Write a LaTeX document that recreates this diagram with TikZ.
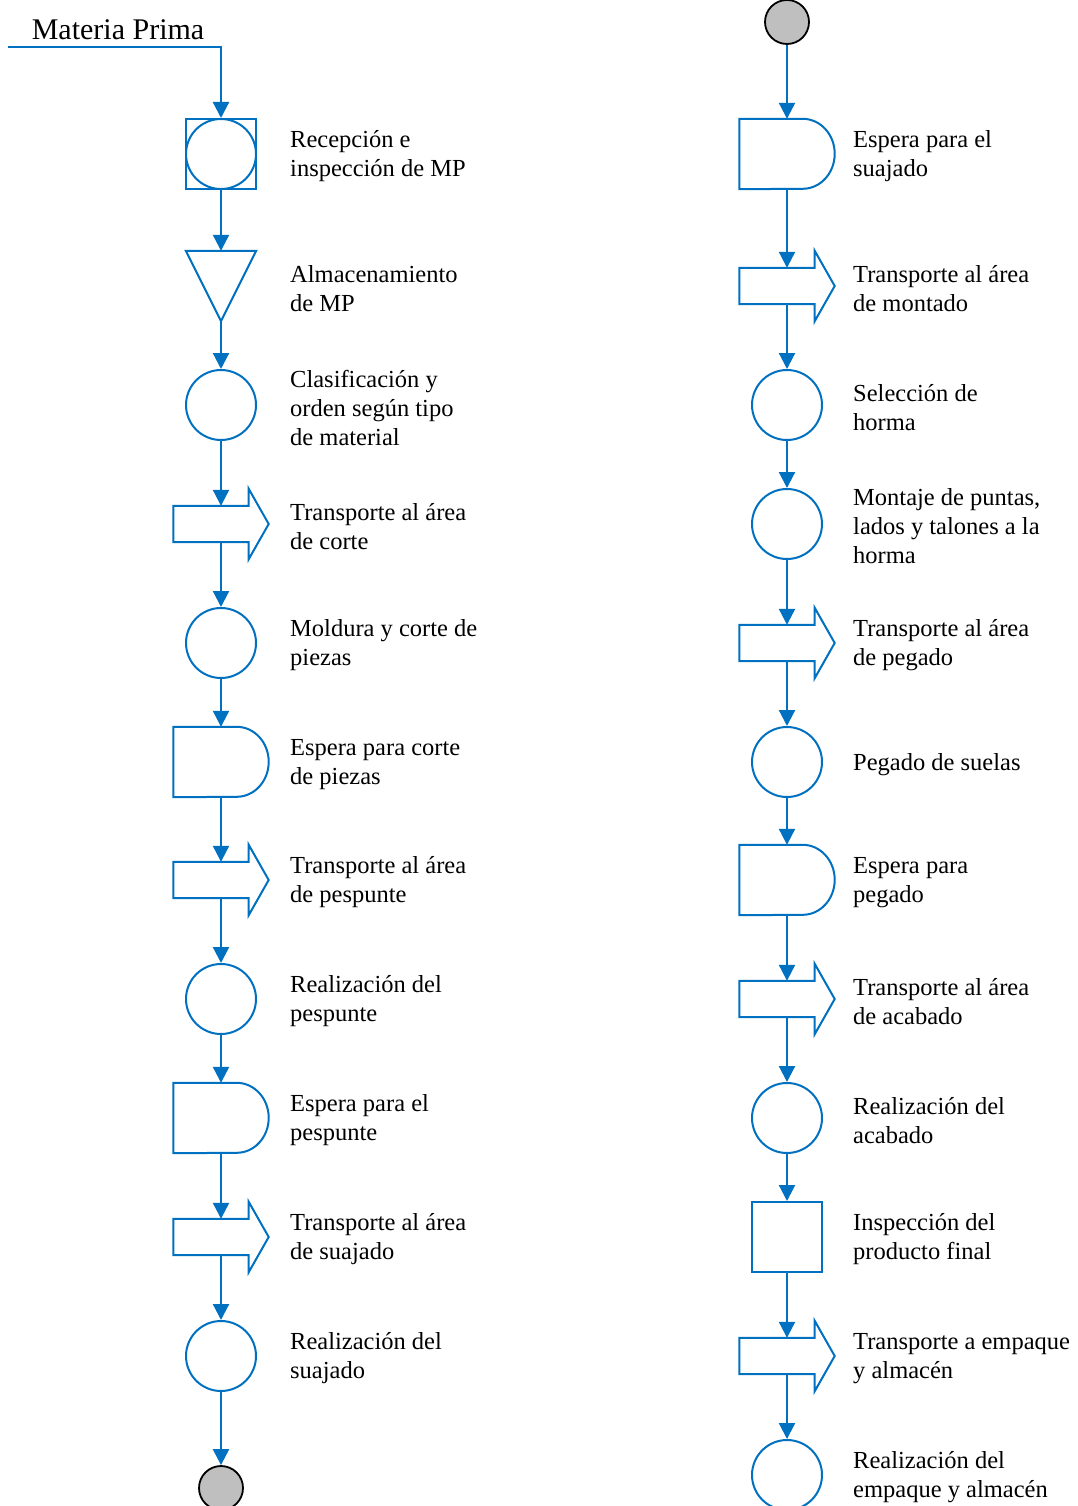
\documentclass[tikz,border=0pt]{standalone}
\usepackage{fontspec}
\setmainfont{Liberation Serif}
\usetikzlibrary{arrows.meta}
\definecolor{mblue}{HTML}{0070C0}
\definecolor{mgrey}{HTML}{BFBFBF}
\begin{document}
\begin{tikzpicture}[x=1pt,y=1pt,
  shp/.style={draw=mblue, line width=2pt},
  conn/.style={draw=mblue, line width=2.2pt, -{Triangle[length=16pt,width=16pt]}},
  op/.style={circle, shp, minimum size=70pt, inner sep=0pt},
  insp/.style={rectangle, shp, minimum size=70pt, inner sep=0pt},
  combo/.style={circle, shp, minimum size=70pt, inner sep=0pt,
    append after command={\pgfextra{\pgfinterruptpath
      \draw[shp] ([shift={(-35pt,-35pt)}]\tikzlastnode.center) rectangle ([shift={(35pt,35pt)}]\tikzlastnode.center);
    \endpgfinterruptpath}}},
  store/.style={rectangle, inner sep=0pt, minimum width=70pt, minimum height=70pt,
    append after command={\pgfextra{\pgfinterruptpath
      \draw[shp, line join=miter] (\tikzlastnode.north west) -- (\tikzlastnode.north east) -- (\tikzlastnode.south) -- cycle;
    \endpgfinterruptpath}}},
  delay/.style={rectangle, inner sep=0pt, minimum width=95pt, minimum height=70pt,
    append after command={\pgfextra{\pgfinterruptpath
      \draw[shp, line join=miter] (\tikzlastnode.north west) -- ([xshift=-32pt]\tikzlastnode.north east)
        arc[start angle=90, end angle=-90, x radius=32pt, y radius=35pt] -- (\tikzlastnode.south west) -- cycle;
    \endpgfinterruptpath}}},
  transp/.style={rectangle, inner sep=0pt, minimum width=95pt, minimum height=36pt,
    append after command={\pgfextra{\pgfinterruptpath
      \draw[shp, line join=miter] (\tikzlastnode.north west) -- ([xshift=-20pt]\tikzlastnode.north east)
        -- ([xshift=-20pt,yshift=17pt]\tikzlastnode.north east) -- (\tikzlastnode.east)
        -- ([xshift=-20pt,yshift=-17pt]\tikzlastnode.south east) -- ([xshift=-20pt]\tikzlastnode.south east)
        -- (\tikzlastnode.south west) -- cycle;
    \endpgfinterruptpath}}},
  term/.style={circle, draw=black, line width=1.8pt, fill=mgrey, minimum size=44pt, inner sep=0pt},
  lbl/.style={anchor=west, align=left, inner sep=0pt, yshift=-2.5pt, font=\fontsize{24.5}{29}\selectfont}
]
\useasboundingbox (0,0) rectangle (1078,-1506);

% Left column
\node[font=\fontsize{30}{34}\selectfont, inner sep=0pt] (mptxt) at (118,-30) {Materia Prima};
\coordinate (mp) at (8,-47);
\node[combo] (L1) at (221,-154) {};
\node[store] (L2) at (221,-286) {};
\node[op] (L3) at (221,-405) {};
\node[transp] (L4) at (221,-524) {};
\node[op] (L5) at (221,-643) {};
\node[delay] (L6) at (221,-762) {};
\node[transp] (L7) at (221,-880) {};
\node[op] (L8) at (221,-999) {};
\node[delay] (L9) at (221,-1118) {};
\node[transp] (L10) at (221,-1237) {};
\node[op] (L11) at (221,-1356) {};
\node[term] (LE) at (221,-1488) {};

\draw[conn] (mp) -| (L1.north);
\draw[conn] (L1.south) -- (L2.north);
\draw[conn] (L2.south) -- (L3.north);
\draw[conn] (L3.south) -- (L4.north);
\draw[conn] (L4.south) -- (L5.north);
\draw[conn] (L5.south) -- (L6.north);
\draw[conn] (L6.south) -- (L7.north);
\draw[conn] (L7.south) -- (L8.north);
\draw[conn] (L8.south) -- (L9.north);
\draw[conn] (L9.south) -- (L10.north);
\draw[conn] (L10.south) -- (L11.north);
\draw[conn] (L11.south) -- (LE.north);

\node[lbl] (t1) at (290,-154) {Recepción e\\inspección de MP};
\node[lbl] (t2) at (290,-286) {Almacenamiento\\de MP};
\node[lbl] (t3) at (290,-405) {Clasificación y\\orden según tipo\\de material};
\node[lbl] (t4) at (290,-524) {Transporte al área\\de corte};
\node[lbl] (t5) at (290,-643) {Moldura y corte de\\piezas};
\node[lbl] (t6) at (290,-762) {Espera para corte\\de piezas};
\node[lbl] (t7) at (290,-880) {Transporte al área\\de pespunte};
\node[lbl] (t8) at (290,-999) {Realización del\\pespunte};
\node[lbl] (t9) at (290,-1118) {Espera para el\\pespunte};
\node[lbl] (t10) at (290,-1237) {Transporte al área\\de suajado};
\node[lbl] (t11) at (290,-1356) {Realización del\\suajado};

% Right column
\node[term] (RS) at (787,-22) {};
\node[delay] (R1) at (787,-154) {};
\node[transp] (R2) at (787,-286) {};
\node[op] (R3) at (787,-405) {};
\node[op] (R4) at (787,-524) {};
\node[transp] (R5) at (787,-643) {};
\node[op] (R6) at (787,-762) {};
\node[delay] (R7) at (787,-880) {};
\node[transp] (R8) at (787,-999) {};
\node[op] (R9) at (787,-1118) {};
\node[insp] (R10) at (787,-1237) {};
\node[transp] (R11) at (787,-1356) {};
\node[op] (R12) at (787,-1475) {};

\draw[conn] (RS.south) -- (R1.north);
\draw[conn] (R1.south) -- (R2.north);
\draw[conn] (R2.south) -- (R3.north);
\draw[conn] (R3.south) -- (R4.north);
\draw[conn] (R4.south) -- (R5.north);
\draw[conn] (R5.south) -- (R6.north);
\draw[conn] (R6.south) -- (R7.north);
\draw[conn] (R7.south) -- (R8.north);
\draw[conn] (R8.south) -- (R9.north);
\draw[conn] (R9.south) -- (R10.north);
\draw[conn] (R10.south) -- (R11.north);
\draw[conn] (R11.south) -- (R12.north);

\node[lbl] (u1) at (853,-154) {Espera para el\\suajado};
\node[lbl] (u2) at (853,-286) {Transporte al área\\de montado};
\node[lbl] (u3) at (853,-405) {Selección de\\horma};
\node[lbl] (u4) at (853,-524) {Montaje de puntas,\\lados y talones a la\\horma};
\node[lbl] (u5) at (853,-643) {Transporte al área\\de pegado};
\node[lbl] (u6) at (853,-762) {Pegado de suelas};
\node[lbl] (u7) at (853,-880) {Espera para\\pegado};
\node[lbl] (u8) at (853,-999) {Transporte al área\\de acabado};
\node[lbl] (u9) at (853,-1118) {Realización del\\acabado};
\node[lbl] (u10) at (853,-1237) {Inspección del\\producto final};
\node[lbl] (u11) at (853,-1356) {Transporte a empaque\\y almacén};
\node[lbl] (u12) at (853,-1475) {Realización del\\empaque y almacén};
\end{tikzpicture}
\end{document}
